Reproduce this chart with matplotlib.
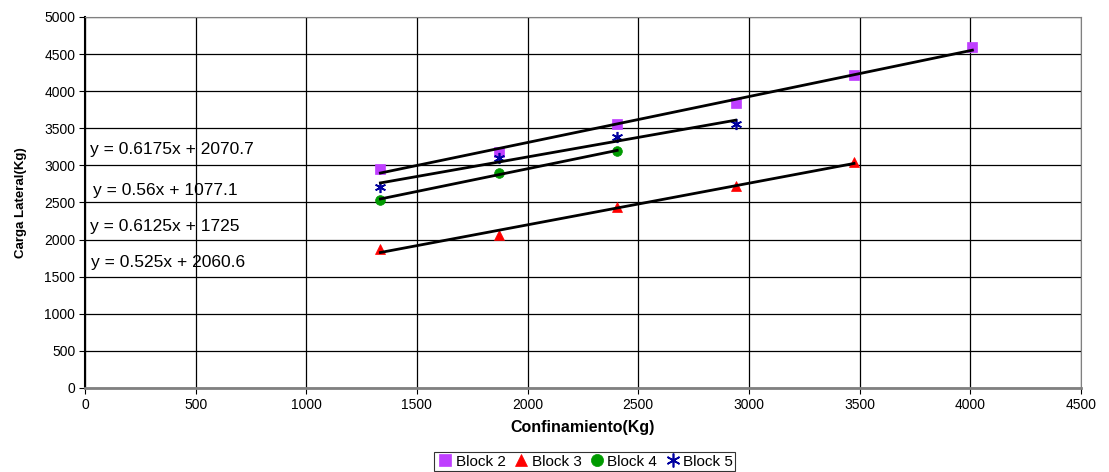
import numpy as np
import matplotlib
matplotlib.use('Agg')
import matplotlib.pyplot as plt

plt.rcParams['font.family'] = ['Liberation Sans', 'DejaVu Sans']

# datos
x_b2 = [1335, 1870, 2405, 2940, 3475, 4010]
y_b2 = [2951, 3185, 3558, 3845, 4218, 4592]
x_b3 = [1335, 1870, 2405, 2940, 3475]
y_b3 = [1870, 2060, 2440, 2720, 3040]
x_b4 = [1335, 1870, 2405]
y_b4 = [2535, 2900, 3190]
x_b5 = [1335, 1870, 2405, 2940]
y_b5 = [2713, 3095, 3379, 3558]

ecuaciones = ['y = 0.6175x + 2070.7', 'y = 0.56x + 1077.1',
              'y = 0.6125x + 1725', 'y = 0.525x + 2060.6']
ecu_pos = [(22, 3208), (35, 2668), (25, 2170), (28, 1685)]

series = [
    ('Block 2', x_b2, y_b2, 's', '#BF3FFF', 7),
    ('Block 3', x_b3, y_b3, '^', '#FF0000', 7),
    ('Block 4', x_b4, y_b4, 'o', '#009A00', 7),
    ('Block 5', x_b5, y_b5, (6, 2, 0), '#0000A0', 8),
]

fig = plt.figure(figsize=(11.09, 4.72), dpi=100)
ax = fig.add_axes([0.0766, 0.178, 0.898, 0.786])

for nombre, xs, ys, mk, col, ms in series:
    ax.plot(xs, ys, linestyle='none', marker=mk, color=col, markersize=ms,
            markeredgewidth=1.2 if mk == (6, 2, 0) else 0.5, label=nombre, zorder=3)

# lineas de tendencia
for nombre, xs, ys, mk, col, ms in series:
    m, b = np.polyfit(xs, ys, 1)
    xx = np.array([min(xs), max(xs)])
    ax.plot(xx, m * xx + b, color='black', linewidth=2, zorder=4)

for txt, (tx, ty) in zip(ecuaciones, ecu_pos):
    ax.text(tx, ty, txt, fontsize=12.5, ha='left', va='center', zorder=5)

ax.set_xlim(0, 4500)
ax.set_ylim(0, 5000)
ax.set_xticks(np.arange(0, 4501, 500))
ax.set_yticks(np.arange(0, 5001, 500))
ax.grid(True, color='black', linewidth=0.9)
ax.set_axisbelow(True)
ax.tick_params(labelsize=10, length=4, width=0.8, pad=3)
for s in ['top', 'right']:
    ax.spines[s].set_color('#808080')
ax.spines['bottom'].set_color('#808080')
ax.spines['bottom'].set_linewidth(2)
ax.spines['left'].set_linewidth(1.5)

ax.set_xlabel('Confinamiento(Kg)', fontsize=11.5, fontweight='bold', labelpad=6)
ax.set_ylabel('Carga Lateral(Kg)', fontsize=9.5, fontweight='bold', labelpad=12)

leg = fig.legend(loc='center', bbox_to_anchor=(0.527, 0.022), ncol=4, fontsize=11,
                 frameon=True, fancybox=False, edgecolor='black', handletextpad=0.1,
                 columnspacing=0.4, borderpad=0.15, handlelength=1.2, markerscale=1.25)
leg.get_frame().set_linewidth(0.8)

fig.savefig('out.png', dpi=100)
